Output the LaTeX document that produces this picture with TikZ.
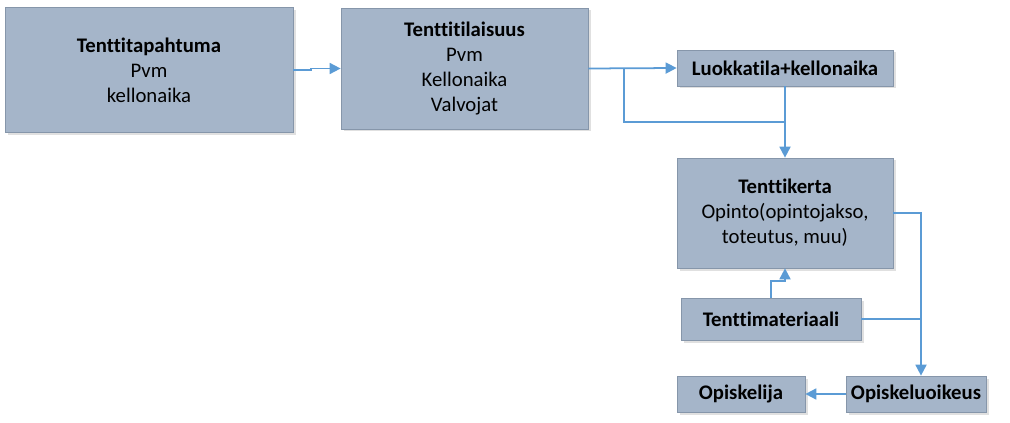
\documentclass[tikz,border=0pt]{standalone}
\usepackage{fontspec}
\setmainfont{Carlito}[Ligatures=NoCommon]
\usetikzlibrary{arrows.meta,positioning,shadows}
\definecolor{boxfill}{HTML}{A5B5C9}
\definecolor{boxline}{HTML}{8696AA}
\definecolor{arrowblue}{HTML}{5B9BD5}
\begin{document}
\begin{tikzpicture}[every node/.style={font=\fontsize{11.8}{14.2}\selectfont},box/.style={rectangle,draw=boxline,fill=boxfill,align=center,inner sep=0pt,drop shadow={shadow xshift=0.05cm,shadow yshift=-0.05cm,fill=black!20,opacity=0.6}},line/.style={arrowblue,line width=1pt},arr/.style={line,-{Triangle[length=2.2mm,width=2.2mm]}}]
\useasboundingbox (0,0) rectangle (20.2,-8.46);
\node[box,minimum width=5.76cm,minimum height=2.5cm] (tapahtuma) at (2.98,-1.40) {\textbf{Tenttitapahtuma}\\Pvm\\kellonaika};
\node[box,minimum width=4.94cm,minimum height=2.42cm] (tilaisuus) at (9.29,-1.37) {\textbf{Tenttitilaisuus}\\Pvm\\Kellonaika\\Valvojat};
\node[box,minimum width=4.32cm,minimum height=0.72cm] (luokka) at (15.70,-1.36) {\textbf{Luokkatila+kellonaika}};
\node[box,minimum width=4.32cm,minimum height=2.2cm] (kerta) at (15.70,-4.26) {\textbf{Tenttikerta}\\Opinto(opintojakso,\\toteutus, muu)};
\node[box,minimum width=3.6cm,minimum height=0.84cm] (materiaali) at (15.42,-6.38) {\textbf{Tenttimateriaali}};
\node[box,minimum width=2.56cm,minimum height=0.72cm] (opiskelija) at (14.82,-7.88) {\textbf{Opiskelija}};
\node[box,minimum width=2.8cm,minimum height=0.72cm] (oikeus) at (18.32,-7.88) {\textbf{Opiskeluoikeus}};
\coordinate (haara) at (12.48,-1.36);
\coordinate (liitos) at (15.70,-2.44);
\coordinate[xshift=0.1cm] (oikeusylä) at (oikeus.north);
% connectors
\draw[arr] (tapahtuma.east) -- ++(0.36,0) |- (tilaisuus.west);
\draw[arr] (tilaisuus.east) -- (luokka.west);
\draw[line] (haara) |- (liitos);
\draw[arr] (luokka.south) -- (kerta.north);
\draw[arr] (kerta.east) -| (oikeusylä);
\draw[line] (materiaali.east) -- (materiaali.east -| oikeusylä);
\draw[arr] (materiaali.north) -- ++(0,0.34) -| (kerta.south);
\draw[arr] (oikeus.west) -- (opiskelija.east);
\end{tikzpicture}
\end{document}
